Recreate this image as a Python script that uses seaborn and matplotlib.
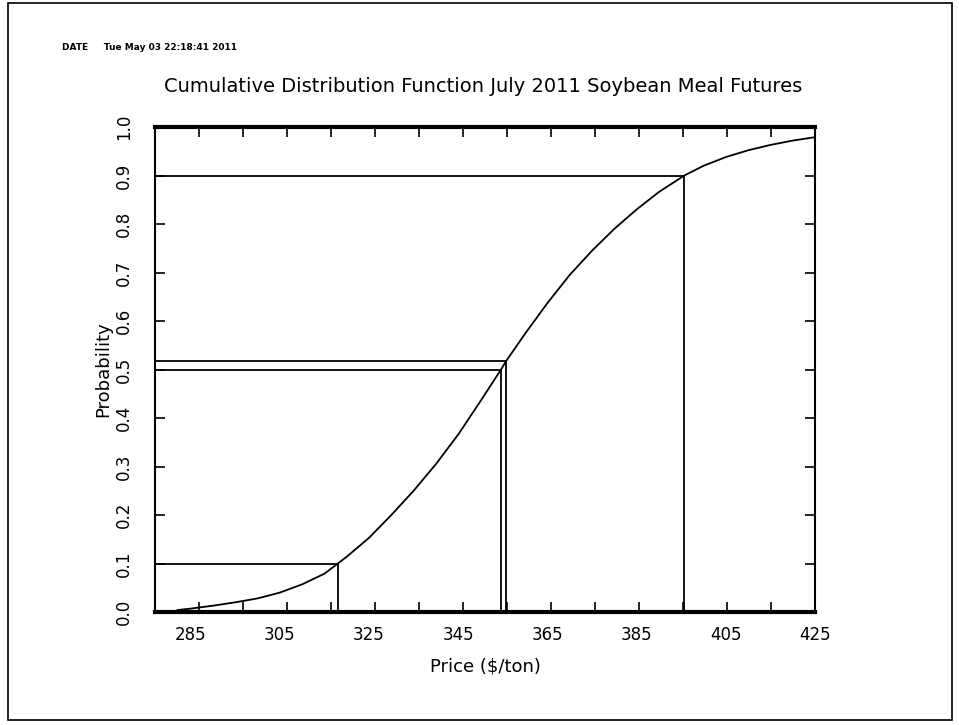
import numpy as np
import pandas as pd
import matplotlib
matplotlib.use("Agg")
import matplotlib.pyplot as plt
import seaborn as sns
from matplotlib.patches import Rectangle

# ---- data ----
price = [282, 285, 290, 295, 300, 305, 310, 315, 318.0, 320, 325, 330, 335, 340, 345,
         350, 354.6, 355.7, 360, 365, 370, 375, 380, 385, 390, 395.7, 400, 405, 410,
         415, 420, 425]
prob = [0.004, 0.007, 0.013, 0.020, 0.028, 0.040, 0.057, 0.079, 0.100, 0.114, 0.153,
        0.200, 0.250, 0.305, 0.366, 0.435, 0.500, 0.517, 0.574, 0.637, 0.695, 0.745,
        0.790, 0.830, 0.866, 0.900, 0.920, 0.938, 0.952, 0.963, 0.972, 0.979]

quant_price = [318.0, 354.6, 355.7, 395.7]
quant_prob = [0.10, 0.50, 0.517, 0.90]

xtick_vals = [285, 305, 325, 345, 365, 385, 405, 425]
ytick_vals = [0.0, 0.1, 0.2, 0.3, 0.4, 0.5, 0.6, 0.7, 0.8, 0.9, 1.0]
x_min, x_max = 277, 425

title = "Cumulative Distribution Function July 2011 Soybean Meal Futures"
date_text = "DATE     Tue May 03 22:18:41 2011"

df = pd.DataFrame({"Price": price, "Probability": prob})

sns.set_style("white")
plt.rcParams["font.family"] = ["DejaVu Sans"]
plt.rcParams["text.color"] = "black"
plt.rcParams["axes.labelcolor"] = "black"
plt.rcParams["xtick.color"] = "black"
plt.rcParams["ytick.color"] = "black"

fig = plt.figure(figsize=(9.59, 7.25), dpi=100)
ax = fig.add_axes([155 / 959, 1 - 612 / 725, 660 / 959, 485 / 725])

sns.lineplot(data=df, x="Price", y="Probability", ax=ax, color="black",
             linewidth=1.3, sort=False, estimator=None)

for qx, qy in zip(quant_price, quant_prob):
    ax.plot([x_min, qx], [qy, qy], color="black", linewidth=1.3)
    ax.plot([qx, qx], [0, qy], color="black", linewidth=1.3)

ax.set_xlim(x_min, x_max)
ax.set_ylim(0, 1.0)

ax.set_xticks(xtick_vals)
ax.set_xticklabels([str(v) for v in xtick_vals], fontsize=12)
ax.set_xticks(np.linspace(x_min, x_max, 16)[1:-1], minor=True)
ax.tick_params(axis="x", which="major", length=0, pad=10)
ax.tick_params(axis="x", which="minor", direction="in", length=7, width=1.2,
               top=True, bottom=True)

ax.set_yticks(ytick_vals)
ax.set_yticklabels([f"{v:.1f}" for v in ytick_vals], fontsize=12, rotation=90,
                   va="center")
ax.tick_params(axis="y", which="major", direction="in", length=7, width=1.2,
               left=True, right=True, pad=16)

ax.set_xlabel("Price ($/ton)", fontsize=13, labelpad=10)
ax.set_ylabel("Probability", fontsize=13, labelpad=2)

for side in ["top", "bottom"]:
    ax.spines[side].set_linewidth(3)
for side in ["left", "right"]:
    ax.spines[side].set_linewidth(1.5)
for s in ax.spines.values():
    s.set_color("black")
    s.set_visible(True)

fig.text(483 / 959, 1 - 86 / 725, title, ha="center", va="center", fontsize=14)
fig.text(62 / 959, 1 - 48 / 725, date_text, ha="left", va="center", fontsize=6.5,
         fontweight="bold")

fig.patches.append(Rectangle((8 / 959, 1 - 720 / 725), 944 / 959, 717 / 725,
                             transform=fig.transFigure, fill=False,
                             edgecolor="black", linewidth=1.2))

fig.savefig("out.png", dpi=100)
